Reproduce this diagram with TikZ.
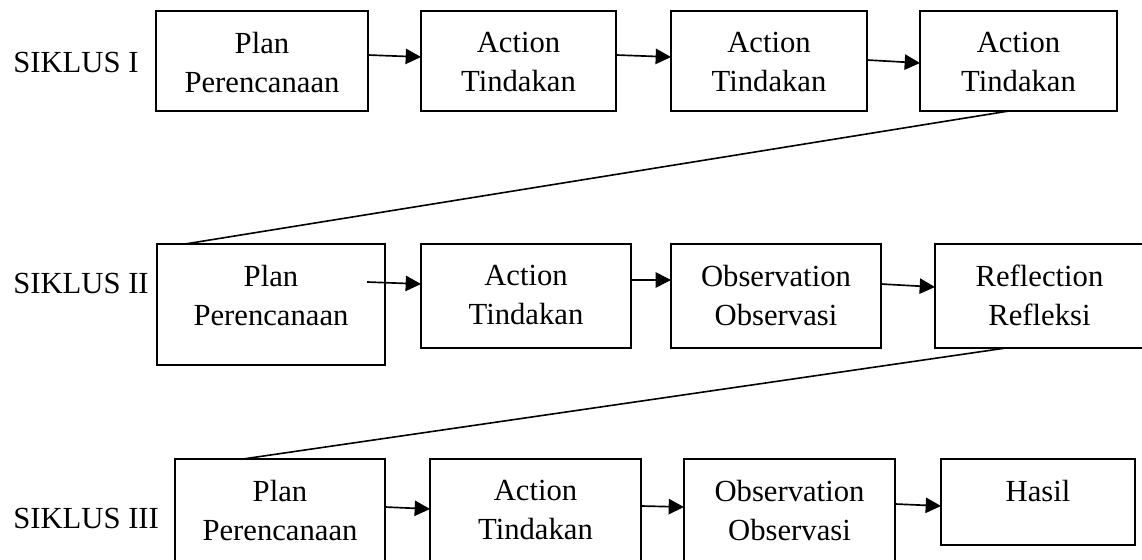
\documentclass[tikz,border=0pt]{standalone}
\usepackage{fontspec}
\setmainfont{Liberation Serif}
\usetikzlibrary{arrows.meta,calc}

\begin{document}
\begin{tikzpicture}[x=0.75pt,y=-0.75pt,
	box/.style={draw,line width=1.3pt,anchor=north west,inner sep=0pt,outer sep=0pt},
	txt/.style={anchor=north,align=center,inner sep=0pt,yshift=-15.75pt,font=\fontsize{23}{28.9}\selectfont},
	lbl/.style={anchor=base west,inner sep=0pt,font=\fontsize{23}{28.9}\selectfont},
	arr/.style={-{Triangle[length=11.5pt,width=11.5pt]},line width=1.25pt},
	lin/.style={line width=1.2pt}]
	\useasboundingbox (0,0) rectangle (1142,560);
	\clip (0,0) rectangle (1142,560);
	
	% siklus I
	\node[lbl] (s1) at (13,73) {SIKLUS I};
	\node[box,minimum width=159pt,minimum height=75pt] (a1) at (156,11) {};
	\node[box,minimum width=146.25pt,minimum height=75pt] (a2) at (421,11) {};
	\node[box,minimum width=147pt,minimum height=75pt] (a3) at (671,11) {};
	\node[box,minimum width=147.75pt,minimum height=75pt] (a4) at (920,11) {};
	\node[txt] (a1t) at (a1.north) {Plan\\Perencanaan};
	\node[txt] (a2t) at (a2.north) {Action\\Tindakan};
	\node[txt] (a3t) at (a3.north) {Action\\Tindakan};
	\node[txt] (a4t) at (a4.north) {Action\\Tindakan};
	\draw[arr] ($(a1.north east)+(0,44)$) -- ($(a2.north west)+(0,46)$);
	\draw[arr] ($(a2.north east)+(0,44)$) -- ($(a3.north west)+(0,46)$);
	\draw[arr] ($(a3.north east)+(0,49)$) -- ($(a4.north west)+(0,52)$);
	
	% siklus II
	\node[lbl] (s2) at (13,293) {SIKLUS II};
	\node[box,minimum width=171pt,minimum height=90.75pt] (b1) at (157,244) {};
	\node[box,minimum width=157.5pt,minimum height=78pt] (b2) at (421,244) {};
	\node[box,minimum width=157.5pt,minimum height=78pt] (b3) at (671,244) {};
	\node[box,minimum width=156.75pt,minimum height=78pt] (b4) at (935,244) {};
	\node[txt] (b1t) at (b1.north) {Plan\\Perencanaan};
	\node[txt] (b2t) at (b2.north) {Action\\Tindakan};
	\node[txt] (b3t) at (b3.north) {Observation\\Observasi};
	\node[txt] (b4t) at (b4.north) {Reflection\\Refleksi};
	\draw[arr] ($(b1.north east)+(-18,38)$) -- ($(b2.north west)+(0,40)$);
	\draw[arr] ($(b2.north east)+(0,36)$) -- ($(b3.north west)+(0,36)$);
	\draw[arr] ($(b3.north east)+(0,40)$) -- ($(b4.north west)+(0,43)$);
	\draw[lin] ($(a4.south west)+(89,0)$) -- ($(b1.north west)+(28,0)$);
	
	% siklus III
	\node[lbl] (s3) at (13,528) {SIKLUS III};
	\node[box,minimum width=157.5pt,minimum height=87pt] (c1) at (175,459) {};
	\node[box,minimum width=158.25pt,minimum height=87pt] (c2) at (430,459) {};
	\node[box,minimum width=158.25pt,minimum height=87pt] (c3) at (684,459) {};
	\node[box,minimum width=145.5pt,minimum height=64.5pt] (c4) at (941,459) {};
	\node[txt] (c1t) at (c1.north) {Plan\\Perencanaan};
	\node[txt] (c2t) at (c2.north) {Action\\Tindakan};
	\node[txt] (c3t) at (c3.north) {Observation\\Observasi};
	\node[txt] (c4t) at (c4.north) {Hasil};
	\draw[arr] ($(c1.north east)+(0,48)$) -- ($(c2.north west)+(0,50)$);
	\draw[arr] ($(c2.north east)+(0,47)$) -- ($(c3.north west)+(0,48)$);
	\draw[arr] ($(c3.north east)+(0,45)$) -- ($(c4.north west)+(0,47)$);
	\draw[lin] ($(b4.south west)+(71,0)$) -- ($(c1.north west)+(68,0)$);
	
\end{tikzpicture}
\end{document}
